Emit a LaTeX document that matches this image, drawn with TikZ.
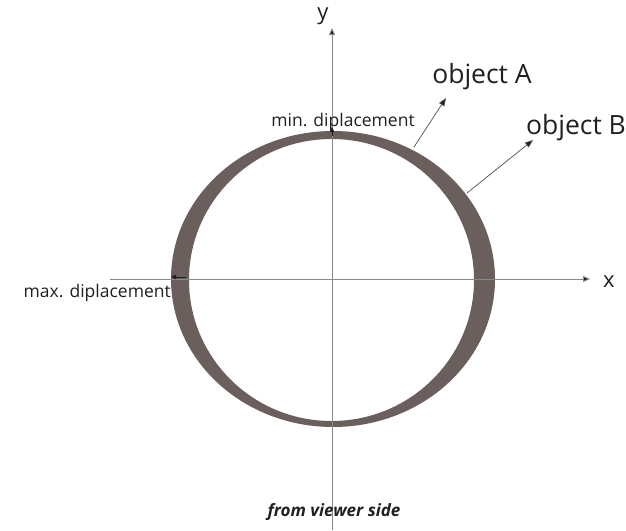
\documentclass[tikz,border=0pt]{standalone}
\usepackage{fontspec}
\setmainfont{Open Sans}
\usetikzlibrary{arrows.meta}
\definecolor{ringc}{HTML}{6B5F5D}
\definecolor{axisc}{HTML}{8A8A8A}
\definecolor{txt}{HTML}{231F20}
\tikzset{
  axisline/.style={draw=axisc, line width=0.9pt},
  axisarrow/.style={axisline, -{Triangle[length=7pt,width=6pt,fill=txt]}},
  ptr/.style={draw=ringc!80!black, line width=0.7pt, -{Triangle[length=8pt,width=6pt,fill=txt]}},
  small/.style={font=\fontsize{17.5}{19}\selectfont, text=txt, inner sep=0pt},
  big/.style={font=\fontsize{26.5}{28}\selectfont, text=txt, inner sep=0pt},
  tick/.style={draw=txt, line width=0.8pt, -{Triangle[length=5pt,width=4.5pt,fill=txt]}}
}
\begin{document}
\begin{tikzpicture}[x=1pt,y=-1pt]
\useasboundingbox (0,0) rectangle (626,530);
% ring
\fill[ringc, even odd rule] (333,279) ellipse [x radius=162, y radius=148]
  (331.5,280) ellipse [x radius=142.5, y radius=141];
% axes
\coordinate (xl) at (110,279);
\coordinate (xr) at (590,279);
\coordinate (yb) at (332,530);
\coordinate (yt) at (332,28);
\draw[axisarrow] (xl) -- (xr);
\draw[axisarrow] (yb) -- (yt);
\node[font=\fontsize{22}{24}\selectfont, text=txt, inner sep=0pt] (ylab) at (323,16) {y};
\node[font=\fontsize{22}{24}\selectfont, text=txt, inner sep=0pt] (xlab) at (609,282) {x};
% min / max labels
\node[small, anchor=base] (minl) at (343,126) {min. diplacement};
\node[small, anchor=base east] (maxl) at (171,297) {max. diplacement};
\coordinate (mint) at (332,136);
\coordinate (minh) at (332,127);
\draw[tick] (mint) -- (minh);
\coordinate (maxt) at (186,277);
\coordinate (maxh) at (171,277);
\draw[tick] (maxt) -- (maxh);
% objects
\node[big, anchor=base] (objA) at (482,83) {object A};
\node[big, anchor=base] (objB) at (576,134) {object B};
\coordinate (aS) at (414,147);
\coordinate (aE) at (446,98);
\coordinate (bS) at (467,193);
\coordinate (bE) at (533,140);
\draw[ptr] (aS) -- (aE);
\draw[ptr] (bS) -- (bE);
% caption
\node[font=\fontsize{17}{19}\selectfont\bfseries\itshape, text=txt, inner sep=0pt, anchor=base] (cap) at (334,516) {from viewer side};
\end{tikzpicture}
\end{document}
